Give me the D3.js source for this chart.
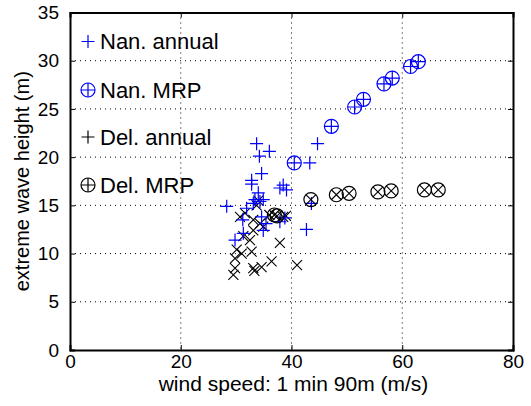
<!DOCTYPE html>
<html>
<head>
<meta charset="utf-8">
<script src="https://cdn.jsdelivr.net/npm/d3@7"></script>
<style>
  body { margin: 0; background: #fff; }
  text { font-family: "Liberation Sans", Arial, sans-serif; }
</style>
</head>
<body>
<svg width="531" height="406"></svg>
<script>
// data: [wind speed, wave height]
const nanAnnual = [
  [28.3, 14.9], [29.8, 11.4], [31.3, 12.1], [31.9, 14.7], [32.8, 17.6], [32.8, 17.2],
  [33.1, 15.2], [33.4, 15.6], [33.7, 21.4], [34.0, 16.3], [34.2, 20.1], [34.3, 15.4],
  [34.6, 18.3], [34.6, 13.8], [34.9, 15.6], [34.9, 12.4], [36.0, 20.6], [37.9, 16.8],
  [38.5, 17.1], [39.1, 16.6], [37.9, 13.3], [38.8, 13.7], [42.7, 12.5], [43.3, 19.4],
  [43.6, 15.2], [44.7, 21.4], [31.2, 13.5], [35.4, 13.1]
];
const nanMRP = [
  [40.5, 19.4], [47.2, 23.2], [51.4, 25.2], [53.0, 26.0],
  [56.7, 27.6], [58.2, 28.2], [61.5, 29.4], [62.9, 29.9]
];
const delAnnual = [
  [29.5, 7.8], [29.8, 8.5], [29.8, 9.5], [30.1, 10.4], [31.0, 10.0], [30.7, 13.8],
  [31.3, 11.8], [32.5, 11.4], [32.8, 10.2], [33.1, 12.4], [33.1, 13.5], [33.1, 8.5],
  [33.3, 8.2], [33.7, 15.0], [34.3, 13.1], [34.9, 12.8], [34.6, 8.6], [36.4, 9.2],
  [37.9, 11.1], [38.5, 13.8], [39.0, 13.9], [41.0, 8.8], [34.0, 15.5], [36.0, 14.0],
  [31.6, 14.2]
];
const delMRP = [
  [36.9, 14.0], [37.4, 13.9], [43.5, 15.6], [48.1, 16.1], [50.4, 16.25],
  [55.6, 16.4], [58.0, 16.5], [64.0, 16.6], [66.5, 16.6]
];
const xTicks = [0, 20, 40, 60, 80];
const yTicks = [0, 5, 10, 15, 20, 25, 30, 35];
const legendLabels = ['Nan. annual', 'Nan. MRP', 'Del. annual', 'Del. MRP'];

const svg = d3.select('svg');
const margin = {left: 70, top: 12.5, right: 18, bottom: 56};
const width = +svg.attr('width') - margin.left - margin.right;
const height = +svg.attr('height') - margin.top - margin.bottom;
const blue = '#0000ff';

const x = d3.scaleLinear().domain([0, 80]).range([0, width]);
const y = d3.scaleLinear().domain([0, 35]).range([height, 0]);

const g = svg.append('g')
    .attr('transform', `translate(${margin.left},${margin.top})`);

// dotted grid
g.append('g')
  .selectAll('line')
  .data(xTicks.slice(1, -1))
  .join('line')
    .attr('x1', d => x(d)).attr('x2', d => x(d))
    .attr('y1', 0).attr('y2', height)
    .attr('stroke', '#000').attr('stroke-width', 1)
    .attr('stroke-dasharray', '1,4');
g.append('g')
  .selectAll('line')
  .data(yTicks.slice(1, -1))
  .join('line')
    .attr('y1', d => y(d)).attr('y2', d => y(d))
    .attr('x1', 0).attr('x2', width)
    .attr('stroke', '#000').attr('stroke-width', 1)
    .attr('stroke-dasharray', '1,4');

// axes, ticks pointing inward like matlab
g.append('g')
    .attr('transform', `translate(0,${height})`)
    .call(d3.axisBottom(x).tickValues(xTicks).tickSize(-5).tickPadding(5));
g.append('g')
    .call(d3.axisLeft(y).tickValues(yTicks).tickSize(-5).tickPadding(11));
g.append('g')
    .call(d3.axisTop(x).tickValues(xTicks).tickSize(-5).tickFormat(''));
g.append('g')
    .attr('transform', `translate(${width},0)`)
    .call(d3.axisRight(y).tickValues(yTicks).tickSize(-5).tickFormat(''));

g.selectAll('.domain').attr('stroke', '#000').attr('stroke-width', 2);
g.selectAll('.tick line').attr('stroke', '#000');
g.selectAll('.tick text')
    .attr('font-family', '"Liberation Sans", Arial, sans-serif')
    .attr('font-size', 19).attr('fill', '#000');

// markers
function plus(sel, color, s) {
  sel.append('path')
    .attr('d', `M${-s},0H${s}M0,${-s}V${s}`)
    .attr('stroke', color).attr('stroke-width', 1.2).attr('fill', 'none');
}
function cross(sel, color, s) {
  sel.append('path')
    .attr('d', `M${-s},${-s}L${s},${s}M${-s},${s}L${s},${-s}`)
    .attr('stroke', color).attr('stroke-width', 1.1).attr('fill', 'none');
}
function circle(sel, color, r) {
  sel.append('circle').attr('r', r)
    .attr('stroke', color).attr('stroke-width', 1.2).attr('fill', 'none');
}

const pts = (data, cls) => g.append('g').selectAll('g.' + cls)
  .data(data)
  .join('g')
    .attr('class', cls)
    .attr('transform', d => `translate(${x(d[0])},${y(d[1])})`);

pts(delAnnual, 'da').call(cross, '#000', 5);
pts(nanAnnual, 'na').call(plus, blue, 6.5);
const dm = pts(delMRP, 'dm');
dm.call(circle, '#000', 7).call(cross, '#000', 5);
const nm = pts(nanMRP, 'nm');
nm.call(circle, blue, 7).call(plus, blue, 7);

// legend
const legY = [41.5, 90, 137, 185];
const leg = svg.append('g').selectAll('g')
  .data(legendLabels)
  .join('g')
    .attr('transform', (d, i) => `translate(88,${legY[i]})`);
leg.each(function(d, i) {
  const s = d3.select(this);
  const col = i < 2 ? blue : '#000';
  if (i % 2 === 0) s.call(plus, col, 6.5);
  else s.call(circle, col, 7).call(plus, col, 7);
  s.append('text')
    .attr('x', 12).attr('y', 0).attr('dy', '0.36em')
    .attr('font-size', 22).attr('fill', '#000')
    .text(d);
});

// axis labels
svg.append('text')
    .attr('x', margin.left + width / 2 + 2).attr('y', 391)
    .attr('text-anchor', 'middle')
    .attr('font-size', 21)
    .text('wind speed: 1 min 90m (m/s)');
svg.append('text')
    .attr('transform', `translate(29,${margin.top + height / 2}) rotate(-90)`)
    .attr('text-anchor', 'middle')
    .attr('font-size', 20)
    .text('extreme wave height (m)');
</script>
</body>
</html>
